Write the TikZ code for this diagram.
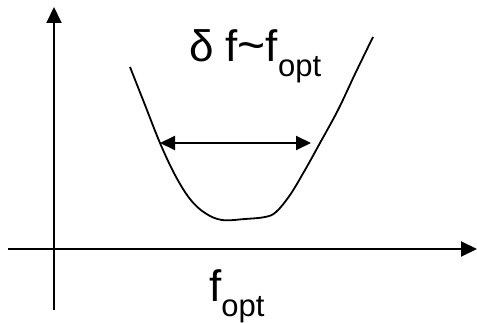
\documentclass[tikz,border=0pt]{standalone}
\usepackage{fontspec}
\setmainfont{Liberation Sans}
\usetikzlibrary{arrows.meta}
\begin{document}
\begin{tikzpicture}[x=1pt,y=-1pt,
  axis/.style={line width=2pt,-{Triangle[length=16pt,width=15pt]}},
  curve/.style={line width=1.8pt,line join=round},
  width/.style={line width=2pt,{Triangle[length=15pt,width=14pt]}-{Triangle[length=15pt,width=14pt]}},
  lab/.style={inner sep=0pt,anchor=base west,font=\fontsize{44}{44}\selectfont}]
\useasboundingbox (0,0) rectangle (477,323);
\coordinate (yb) at (54,310);
\coordinate (yt) at (54,7);
\coordinate (xl) at (8,249);
\coordinate (xr) at (477,249);
\draw[axis] (yb) -- (yt);
\draw[axis] (xl) -- (xr);
\draw[curve] plot[smooth,tension=0.6] coordinates {(130,67) (145,105) (160,143) (175,175) (190,199) (205,213) (222,220) (245,219) (265,217) (276,212) (290,195) (305,170) (320,143) (338,110) (355,74) (373,37)};
\coordinate (al) at (160,143);
\coordinate (ar) at (311,143);
\draw[width] (al) -- (ar);
\node[lab] (top) at (189,62) {δ\hspace{12pt}f{\fontsize{48}{48}\selectfont\char`\~}f\raisebox{-15pt}{\fontsize{31}{31}\selectfont opt}};
\node[lab] (bot) at (209,302) {f\raisebox{-15pt}{\fontsize{31}{31}\selectfont opt}};
\end{tikzpicture}
\end{document}
